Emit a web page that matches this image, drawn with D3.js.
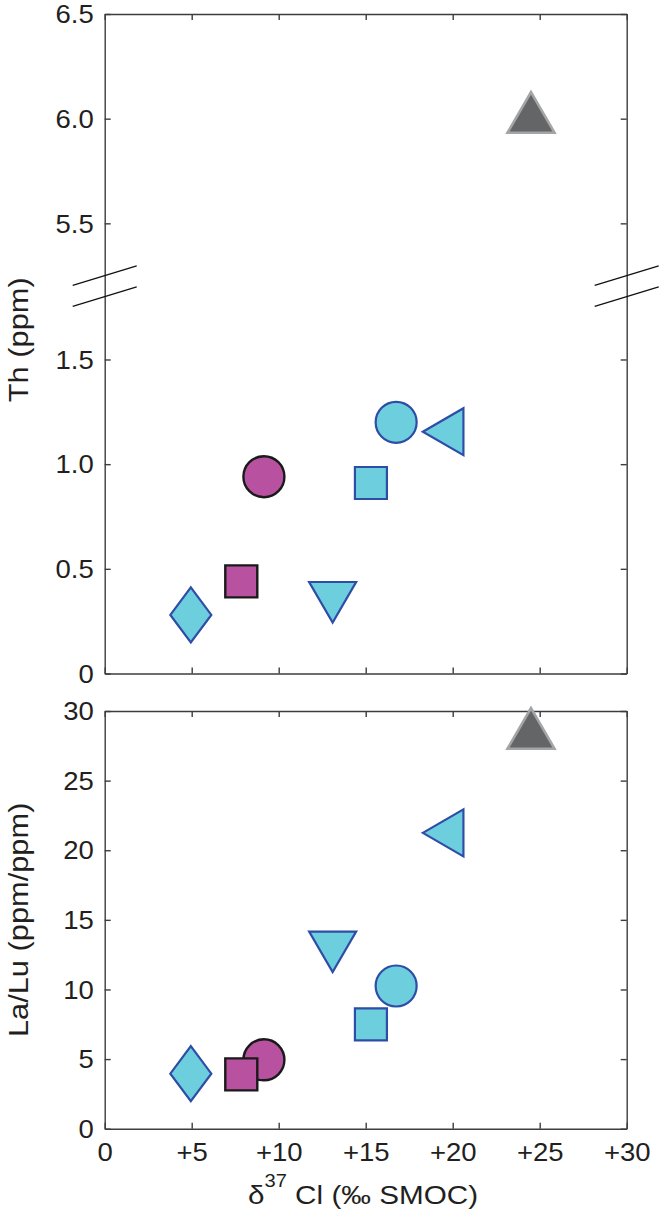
<!DOCTYPE html>
<html>
<head>
<meta charset="utf-8">
<script src="https://cdn.jsdelivr.net/npm/d3@7"></script>
<style>
  html, body { margin: 0; padding: 0; background: #fff; }
  svg { display: block; }
  text { font-family: "Liberation Sans", Arial, Helvetica, sans-serif; fill: #231f20; }
</style>
</head>
<body>
<svg id="chart" width="660" height="1217"></svg>
<script>
// ---------------- data ----------------
const shapes   = ["diamond", "circle", "square", "triangle-down", "circle", "square", "triangle-left", "triangle-up"];
const groups   = ["cyan",    "magenta","magenta","cyan",         "cyan",   "cyan",   "cyan",          "grey"];
const d37Cl    = [4.95,      9.15,     7.85,     13.1,           16.75,    15.3,     19.45,           24.5];
const thPpm    = [0.28,      0.94,     0.44,     0.34,           1.20,     0.91,     1.155,           6.03];
const laLu     = [3.95,      4.95,     3.9,      12.7,           10.25,    7.5,      21.25,           28.75];

const xTicks      = [0, 5, 10, 15, 20, 25, 30];
const xTickLabels = ["0", "+5", "+10", "+15", "+20", "+25", "+30"];
const thTicks     = [0, 0.5, 1.0, 1.5, 5.5, 6.0, 6.5];
const thTickLabels= ["0", "0.5", "1.0", "1.5", "5.5", "6.0", "6.5"];
const thBreak     = [1.8, 5.25];
const laLuTicks   = [0, 5, 10, 15, 20, 25, 30];

// ---------------- styles ----------------
const fillColor   = { cyan: "#6dcedd", magenta: "#b8519f", grey: "#646567" };
const strokeColor = { cyan: "#2e4da7", magenta: "#1a1a1a", grey: "#a4a5a7" };
const strokeW     = { cyan: 2.2, magenta: 2.4, grey: 2.6 };
const axisColor = "#3d3d3d";
const SX_TICK = 1.1;   // horizontal stretch of the reference typeface (tick labels)
const SX_TITLE = 1.12; // horizontal stretch for titles

// ---------------- layout ----------------
const svg = d3.select("#chart");
const left = 104.7, right = 626.7;
const topPanel = { top: 14, bottom: 673.5, gap: 21 };
const botPanel = { top: 711, bottom: 1128.7 };

const x = d3.scaleLinear().domain([0, 30]).range([left, right]);

const k = (topPanel.bottom - topPanel.top - topPanel.gap) / (thBreak[0] + (6.5 - thBreak[1]));
const yTop = d3.scaleLinear()
  .domain([0, thBreak[0], thBreak[1], 6.5])
  .range([topPanel.bottom, topPanel.bottom - thBreak[0] * k, topPanel.top + (6.5 - thBreak[1]) * k, topPanel.top]);

const yBot = d3.scaleLinear().domain([0, 30]).range([botPanel.bottom, botPanel.top]);

function styleAxis(g) {
  g.attr("font-family", null).attr("font-size", null);
  g.selectAll("path.domain").attr("stroke", axisColor).attr("stroke-width", 1.4);
  g.selectAll(".tick line").attr("stroke", axisColor).attr("stroke-width", 1.4);
  g.selectAll(".tick text")
    .style("font-family", '"Liberation Sans", Arial, Helvetica, sans-serif')
    .attr("font-size", 25).attr("fill", "#231f20");
}

function drawPanel(y, yTicks, yFmt, p, showX) {
  const g = svg.append("g");
  const gl = g.append("g").attr("transform", `translate(${left},0)`)
    .call(d3.axisLeft(y).tickValues(yTicks).tickFormat(yFmt).tickSize(-6).tickSizeOuter(0).tickPadding(11));
  const gr = g.append("g").attr("transform", `translate(${right},0)`)
    .call(d3.axisRight(y).tickValues(yTicks).tickFormat("").tickSize(-6).tickSizeOuter(0));
  const gt = g.append("g").attr("transform", `translate(0,${p.top})`)
    .call(d3.axisTop(x).tickValues(xTicks).tickFormat("").tickSize(-6).tickSizeOuter(0));
  const gb = g.append("g").attr("transform", `translate(0,${p.bottom})`)
    .call(d3.axisBottom(x).tickValues(xTicks)
      .tickFormat(showX ? (d, i) => xTickLabels[i] : "")
      .tickSize(-6).tickSizeOuter(0).tickPadding(15));
  [gl, gr, gt, gb].forEach(styleAxis);
  gl.selectAll(".tick text").attr("x", -11 / SX_TICK).attr("dy", "0.35em").attr("transform", `scale(${SX_TICK},1)`);
  gb.selectAll(".tick text").attr("transform", `scale(${SX_TICK},1)`);
  return g;
}

drawPanel(yTop, thTicks, (d) => thTickLabels[thTicks.indexOf(d)], topPanel, false);
drawPanel(yBot, laLuTicks, d3.format("d"), botPanel, true);

// axis-break marks on the top panel
const brk = svg.append("g").attr("stroke", "#111").attr("stroke-width", 1.3);
[left, right].forEach(cx => {
  thBreak.forEach(v => {
    const cy = yTop(v);
    brk.append("line")
      .attr("x1", cx - 32).attr("y1", cy + 9.7)
      .attr("x2", cx + 32).attr("y2", cy - 9.7);
  });
});

// ---------------- marker shapes ----------------
function shapePath(s) {
  const p = d3.path();
  if (s === "circle") {
    p.arc(0, 0, 20.5, 0, 2 * Math.PI);
  } else if (s === "square") {
    p.rect(-16, -16, 32, 32);
  } else if (s === "diamond") {
    p.moveTo(0, -27.5); p.lineTo(20.5, 0); p.lineTo(0, 27.5); p.lineTo(-20.5, 0); p.closePath();
  } else {
    const hw = 23.5, hh = 20.3;
    if (s === "triangle-down") { p.moveTo(-hw, -hh); p.lineTo(hw, -hh); p.lineTo(0, hh); }
    else if (s === "triangle-up") { p.moveTo(0, -hh); p.lineTo(hw, hh); p.lineTo(-hw, hh); }
    else if (s === "triangle-left") { p.moveTo(-hh, 0); p.lineTo(hh, -hw); p.lineTo(hh, hw); }
    p.closePath();
  }
  return p.toString();
}

function drawMarkers(yScale, values) {
  svg.append("g").selectAll("path")
    .data(d3.range(shapes.length))
    .join("path")
    .attr("d", i => shapePath(shapes[i]))
    .attr("transform", i => `translate(${x(d37Cl[i])},${yScale(values[i])})`)
    .attr("fill", i => fillColor[groups[i]])
    .attr("stroke", i => strokeColor[groups[i]])
    .attr("stroke-width", i => strokeW[groups[i]])
    .attr("stroke-linejoin", "miter");
}
drawMarkers(yTop, thPpm);
drawMarkers(yBot, laLu);

// ---------------- titles ----------------
function title(tx, ty, rot, size, build) {
  const g = svg.append("g").attr("transform", `translate(${tx},${ty}) rotate(${rot}) scale(${SX_TITLE},1)`);
  const t = g.append("text").attr("text-anchor", "middle").attr("font-size", size);
  build(t);
  return t;
}
title(28, (topPanel.top + topPanel.bottom) / 2 - 4, -90, 27.5, t => t.text("Th (ppm)"));
title(28, (botPanel.top + botPanel.bottom) / 2, -90, 27.5, t => t.text("La/Lu (ppm/ppm)"));
title(363, 1204, 0, 26.5, t => {
  t.append("tspan").text("\u03b4");
  t.append("tspan").attr("font-size", 18).attr("dy", -17).text("37");
  t.append("tspan").attr("dy", 17).text("\u00a0Cl (\u2030 SMOC)");
});
</script>
</body>
</html>
